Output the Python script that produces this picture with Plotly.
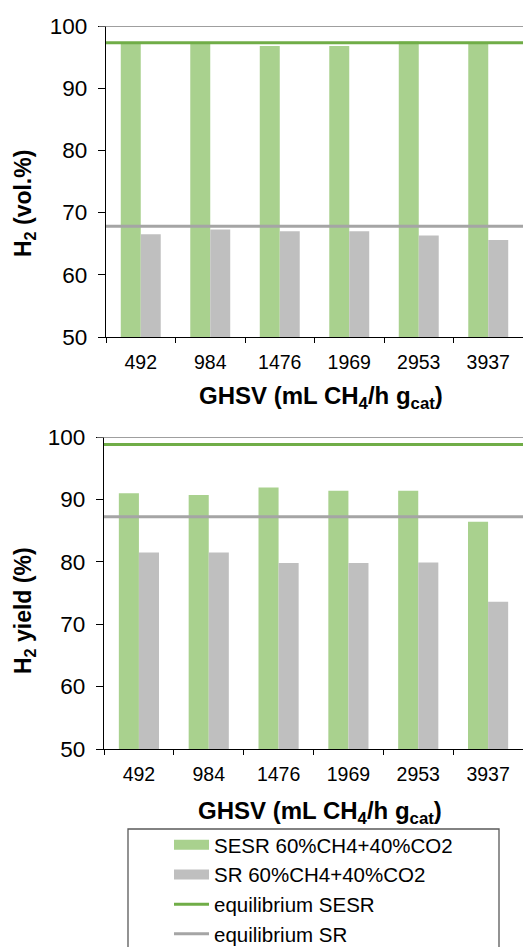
import plotly.graph_objects as go

W, H = 523, 947

categories = ["492", "984", "1476", "1969", "2953", "3937"]
vol_sesr = [97.2, 97.2, 96.8, 96.8, 97.5, 97.3]
vol_sr = [66.5, 67.3, 67.0, 67.0, 66.3, 65.6]
vol_eq_sesr = 97.3
vol_eq_sr = 67.8

yield_sesr = [91.0, 90.7, 91.9, 91.4, 91.4, 86.4]
yield_sr = [81.5, 81.5, 79.8, 79.8, 79.9, 73.6]
yield_eq_sesr = 98.8
yield_eq_sr = 87.2

names = ["SESR 60%CH4+40%CO2", "SR 60%CH4+40%CO2", "equilibrium SESR", "equilibrium SR"]
y_ticks = [50, 60, 70, 80, 90, 100]

GREEN_BAR = "#A9D18E"
GRAY_BAR = "#BFBFBF"
GREEN_LINE = "#70AD47"
GRAY_LINE = "#A5A5A5"
FONT = "Liberation Sans, Arial, sans-serif"


def px(x):
    return x / W


def py(y):
    return 1 - y / H


fig = go.Figure()

# legend-only swatches for bar series
fig.add_trace(go.Scatter(x=[None], y=[None], mode="lines", name=names[0],
                         line=dict(color=GREEN_BAR, width=10), legendgroup="a",
                         xaxis="x", yaxis="y"))
fig.add_trace(go.Scatter(x=[None], y=[None], mode="lines", name=names[1],
                         line=dict(color=GRAY_BAR, width=10), legendgroup="b",
                         xaxis="x", yaxis="y"))

# top chart bars
fig.add_trace(go.Bar(x=categories, y=vol_sesr, marker=dict(color=GREEN_BAR, line=dict(width=0)),
                     name=names[0], showlegend=False, xaxis="x", yaxis="y"))
fig.add_trace(go.Bar(x=categories, y=vol_sr, marker=dict(color=GRAY_BAR, line=dict(width=0)),
                     name=names[1], showlegend=False, xaxis="x", yaxis="y"))
# bottom chart bars
fig.add_trace(go.Bar(x=categories, y=yield_sesr, marker=dict(color=GREEN_BAR, line=dict(width=0)),
                     name=names[0], showlegend=False, xaxis="x2", yaxis="y2"))
fig.add_trace(go.Bar(x=categories, y=yield_sr, marker=dict(color=GRAY_BAR, line=dict(width=0)),
                     name=names[1], showlegend=False, xaxis="x2", yaxis="y2"))

# equilibrium lines (span full width via overlay numeric axes)
fig.add_trace(go.Scatter(x=[0, 1], y=[vol_eq_sesr, vol_eq_sesr], mode="lines", name=names[2],
                         line=dict(color=GREEN_LINE, width=3), legendgroup="c",
                         xaxis="x3", yaxis="y"))
fig.add_trace(go.Scatter(x=[0, 1], y=[vol_eq_sr, vol_eq_sr], mode="lines", name=names[3],
                         line=dict(color=GRAY_LINE, width=3), legendgroup="d",
                         xaxis="x3", yaxis="y"))
fig.add_trace(go.Scatter(x=[0, 1], y=[yield_eq_sesr, yield_eq_sesr], mode="lines", name=names[2],
                         line=dict(color=GREEN_LINE, width=3), showlegend=False,
                         xaxis="x4", yaxis="y2"))
fig.add_trace(go.Scatter(x=[0, 1], y=[yield_eq_sr, yield_eq_sr], mode="lines", name=names[3],
                         line=dict(color=GRAY_LINE, width=3), showlegend=False,
                         xaxis="x4", yaxis="y2"))

xcommon = dict(type="category", showline=True, linecolor="black", linewidth=1.3,
               ticks="outside", ticklen=5, tickcolor="black", tickwidth=1.3,
               tickson="boundaries", showgrid=False, zeroline=False,
               tickfont=dict(family=FONT, size=19.5, color="black"),
               fixedrange=True, ticklabelstandoff=7)
ycommon = dict(range=[50, 100], tickvals=y_ticks, showline=True, linecolor="black",
               linewidth=1.3, ticks="outside", ticklen=7, tickcolor="black", tickwidth=1.3,
               showgrid=False, zeroline=False,
               tickfont=dict(family=FONT, size=22.5, color="black"),
               fixedrange=True, ticklabelstandoff=6)

fig.update_layout(
    width=W, height=H, margin=dict(l=0, r=0, t=0, b=0, autoexpand=False),
    paper_bgcolor="white", plot_bgcolor="white",
    barmode="group", bargap=0.425, bargroupgap=0,
    font=dict(family=FONT, color="black"),
    xaxis=dict(domain=[px(106), 1], anchor="y", **xcommon),
    yaxis=dict(domain=[py(337), py(26)], anchor="x", **ycommon),
    xaxis2=dict(domain=[px(104), 1], anchor="y2", **xcommon),
    yaxis2=dict(domain=[py(749), py(437)], anchor="x2", **ycommon),
    xaxis3=dict(overlaying="x", anchor="y", range=[0, 1], visible=False, fixedrange=True),
    xaxis4=dict(overlaying="x2", anchor="y2", range=[0, 1], visible=False, fixedrange=True),
    showlegend=True,
    legend=dict(x=px(169), y=py(825), xanchor="left", yanchor="top",
                font=dict(family=FONT, size=20.5, color="black"),
                bgcolor="rgba(0,0,0,0)", borderwidth=0, tracegroupgap=3,
                itemwidth=35, traceorder="normal"),
)

# top border lines at 100
for yref in ["y", "y2"]:
    x0 = px(99) if yref == "y" else px(97)
    fig.add_shape(type="line", xref="paper", yref=yref, x0=x0, x1=1, y0=100, y1=100,
                  line=dict(color="#7F7F7F", width=1.5), layer="above")

# legend frame
fig.add_shape(type="rect", xref="paper", yref="paper", x0=px(128), x1=px(499),
              y0=py(829), y1=py(960), line=dict(color="#595959", width=1.3),
              fillcolor="rgba(0,0,0,0)")

title_font = dict(family=FONT, size=23, color="black")
fig.add_annotation(text="<b>H<sub>2</sub> (vol.%)</b>", textangle=-90, xref="paper", yref="paper",
                   x=px(24), y=py(204), xanchor="center", yanchor="middle", showarrow=False,
                   font=title_font)
fig.add_annotation(text="<b>H<sub>2</sub> yield (%)</b>", textangle=-90, xref="paper", yref="paper",
                   x=px(24), y=py(611), xanchor="center", yanchor="middle", showarrow=False,
                   font=title_font)
fig.add_annotation(text="<b>GHSV (mL CH<sub>4</sub>/h g<sub>cat</sub>)</b>", xref="paper", yref="paper",
                   x=px(321), y=py(398), xanchor="center", yanchor="middle", showarrow=False,
                   font=dict(family=FONT, size=24, color="black"))
fig.add_annotation(text="<b>GHSV (mL CH<sub>4</sub>/h g<sub>cat</sub>)</b>", xref="paper", yref="paper",
                   x=px(320), y=py(812), xanchor="center", yanchor="middle", showarrow=False,
                   font=dict(family=FONT, size=24, color="black"))

fig.write_html("out.html")
